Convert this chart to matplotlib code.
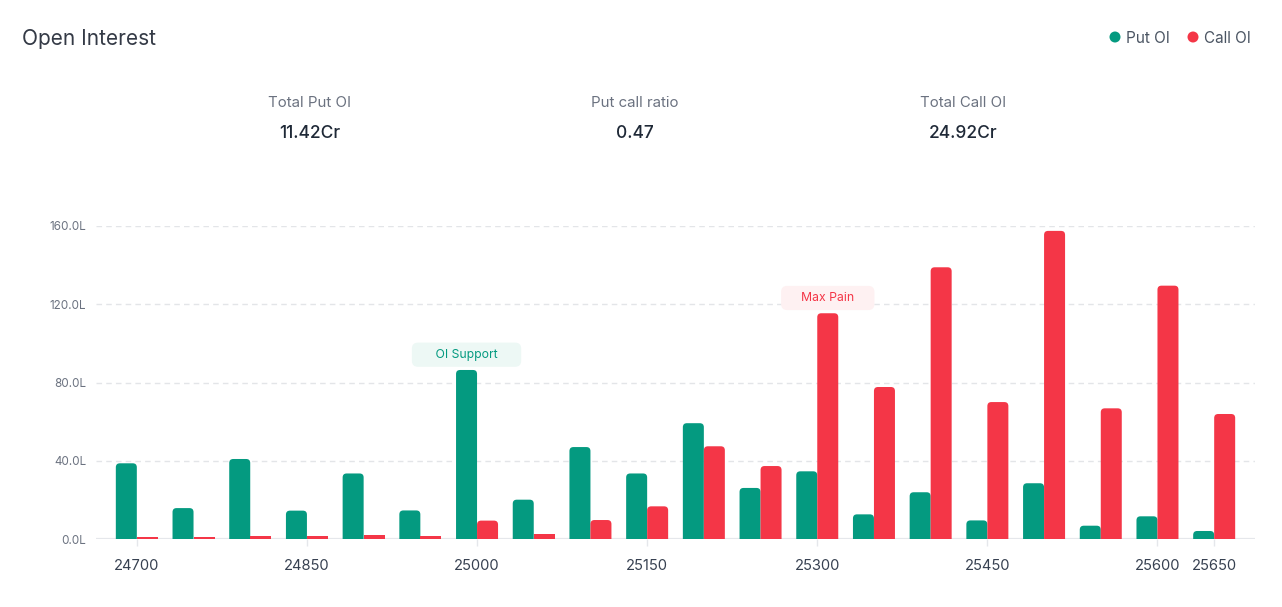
import numpy as np
import matplotlib
matplotlib.use('Agg')
import matplotlib.pyplot as plt
from matplotlib.patches import FancyBboxPatch, Rectangle, Circle

plt.rcParams['font.family'] = ['Inter', 'DejaVu Sans']

strikes = [24700, 24750, 24800, 24850, 24900, 24950, 25000, 25050, 25100, 25150,
           25200, 25250, 25300, 25350, 25400, 25450, 25500, 25550, 25600, 25650]
put_oi = [38.7, 15.8, 40.9, 14.5, 33.5, 14.6, 86.4, 20.1, 47.0, 33.5,
          59.2, 26.1, 34.6, 12.6, 23.9, 9.5, 28.5, 6.8, 11.6, 4.1]
call_oi = [0.5, 0.5, 1.0, 0.7, 1.2, 1.0, 9.4, 1.7, 9.7, 16.7,
           47.4, 37.3, 115.4, 77.7, 138.9, 70.0, 157.5, 66.8, 129.5, 63.9]
shown_ticks = [24700, 24850, 25000, 25150, 25300, 25450, 25600, 25650]
y_ticks = [0, 40, 80, 120, 160]
stats = [('Total Put OI', '11.42Cr'), ('Put call ratio', '0.47'), ('Total Call OI', '24.92Cr')]
support_strike = 25000
max_pain_strike = 25300

GREEN = '#049a80'
RED = '#f43647'
W, H = 1282, 607

fig = plt.figure(figsize=(W / 100, H / 100), dpi=100)
ax = fig.add_axes([96 / W, (H - 539) / H, (1255 - 96) / W, (539 - 226) / H])

x = np.arange(len(strikes))
xlim = (-0.72, len(strikes) - 1 + 0.72)
ylim = (0, 160)
ax.set_xlim(*xlim)
ax.set_ylim(*ylim)

# pixel scale of data units, used to round the bar tops evenly
px_x = (1255 - 96) / (xlim[1] - xlim[0])
px_y = (539 - 226) / (ylim[1] - ylim[0])
bw = 21 / px_x
rad = 4 / px_x
aspect = px_x / px_y
below = 6 / px_y


def rounded_bar(x0, val, color):
    if val * px_y < 6:
        # tiny bars: flat strip sitting on the baseline
        p = Rectangle((x0, 0), bw, val + 0.6 / px_y * 2, fc=color, ec='none', zorder=3)
    else:
        p = FancyBboxPatch((x0, -below), bw, val + below,
                           boxstyle='round,pad=0,rounding_size=%f' % rad,
                           mutation_aspect=aspect, fc=color, ec='none', zorder=3)
    ax.add_patch(p)


for i in range(len(strikes)):
    rounded_bar(x[i] - bw, put_oi[i], GREEN)
    rounded_bar(x[i], call_oi[i], RED)

for yv in y_ticks[1:]:
    ax.axhline(yv, color='#e3e5e8', lw=1, dashes=(4, 3), zorder=1)
ax.axhline(0, color='#e5e7eb', lw=1.6, zorder=2)

for s in ax.spines.values():
    s.set_visible(False)
ax.set_yticks(y_ticks)
ax.set_yticklabels(['%.1fL' % v for v in y_ticks])
ax.tick_params(axis='y', length=0, pad=7, labelsize=8.4, labelcolor='#6b7280')
ax.set_xticks([strikes.index(s) for s in shown_ticks])
ax.set_xticklabels([str(s) for s in shown_ticks])
ax.tick_params(axis='x', length=5, width=1, color='#e5e7eb', pad=9.5,
               labelsize=10.6, labelcolor='#374151')

# annotation tags
i = strikes.index(support_strike)
ax.annotate('     OI Support     ', (x[i] - bw / 2, put_oi[i]), xytext=(0, 11), textcoords='offset points',
            ha='center', va='center', fontsize=8.8, color=GREEN, zorder=5,
            bbox=dict(boxstyle='round,pad=0.5,rounding_size=0.5', fc='#edf8f5', ec='none'))
i = strikes.index(max_pain_strike)
ax.annotate('    Max Pain    ', (x[i] + bw / 2, call_oi[i]), xytext=(0, 11), textcoords='offset points',
            ha='center', va='center', fontsize=8.8, color=RED, zorder=5,
            bbox=dict(boxstyle='round,pad=0.5,rounding_size=0.5', fc='#fef1f2', ec='none'))

# header
fig.text(22 / W, 1 - 39 / H, 'Open Interest', fontsize=15, color='#343a46', va='center', ha='left')
fig.patches.append(Circle((1115, H - 37), 5.5, transform=None, fc=GREEN, ec='none'))
fig.text(1126 / W, 1 - 38.5 / H, 'Put OI', fontsize=11, color='#4b5563', va='center', ha='left')
fig.patches.append(Circle((1193, H - 37), 5.5, transform=None, fc=RED, ec='none'))
fig.text(1204 / W, 1 - 38.5 / H, 'Call OI', fontsize=11, color='#4b5563', va='center', ha='left')

for cx, (lab, val) in zip([310, 635, 963], stats):
    fig.text(cx / W, 1 - 103 / H, lab, fontsize=10.8, color='#6b7280', ha='center', va='center')
    fig.text(cx / W, 1 - 133 / H, val, fontsize=12.5, color='#1f2937', ha='center', va='center',
             fontweight='medium')

fig.savefig('out.png', dpi=100, facecolor='white')
